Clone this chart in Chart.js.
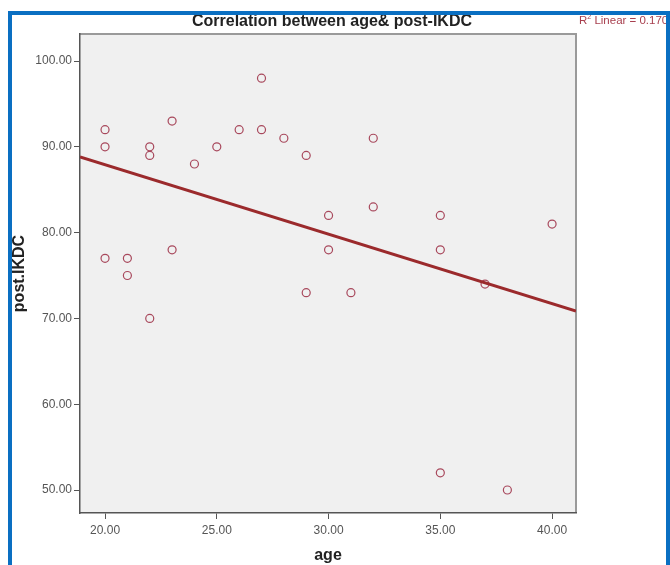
<!DOCTYPE html>
<html>
<head>
<meta charset="utf-8">
<script src="https://cdn.jsdelivr.net/npm/chart.js@4.4.1/dist/chart.umd.min.js"></script>
<style>
  body { margin: 0; background: #fff; }
  #wrap { position: relative; width: 670px; height: 565px; overflow: hidden; }
  #frame {
    position: absolute; left: 8px; top: 11px; width: 654px; height: 600px;
    border: 4px solid #0a6fc2; border-bottom: none; pointer-events: none;
  }
</style>
</head>
<body>
<div id="wrap">
  <canvas id="chart" width="670" height="565"></canvas>
  <div id="frame"></div>
</div>
<script>
// age vs post-IKDC
const ages     = [20, 20, 20, 21, 21, 22, 22, 22, 23, 23, 24, 25, 26, 27, 27, 28, 29, 29, 30, 30, 31, 32, 32, 35, 35, 35, 37, 38, 40];
const postIKDC = [92, 90, 77, 77, 75, 90, 89, 70, 93, 78, 88, 90, 92, 98, 92, 91, 89, 73, 82, 78, 73, 91, 83, 82, 78, 52, 74, 50, 81];
const xTicks = [20, 25, 30, 35, 40];
const yTicks = [50, 60, 70, 80, 90, 100];
const chartTitle = 'Correlation between age& post-IKDC';
const fitLabel = ' Linear = 0.170';

const xMin = 18.88, xMax = 41.07;
const yMin = 47.32, yMax = 103.15;

// least squares fit line
const n = ages.length;
const mx = ages.reduce((a, b) => a + b, 0) / n;
const my = postIKDC.reduce((a, b) => a + b, 0) / n;
let sxy = 0, sxx = 0;
ages.forEach((x, i) => { sxy += (x - mx) * (postIKDC[i] - my); sxx += (x - mx) * (x - mx); });
const slope = sxy / sxx;
const intercept = my - slope * mx;
const fitLine = [xMin, xMax].map(x => ({ x: x, y: intercept + slope * x }));

const font = "'Liberation Sans', Arial, sans-serif";

const extras = {
  id: 'extras',
  beforeDraw(chart) {
    const { ctx, chartArea: a } = chart;
    ctx.save();
    ctx.fillStyle = '#f0f0f0';
    ctx.fillRect(a.left, a.top, a.right - a.left, a.bottom - a.top);
    ctx.strokeStyle = '#9a9a9a';
    ctx.lineWidth = 2;
    ctx.beginPath();
    ctx.moveTo(a.left, a.top);
    ctx.lineTo(a.right, a.top);
    ctx.lineTo(a.right, a.bottom);
    ctx.stroke();
    ctx.restore();
  },
  afterDraw(chart) {
    const { ctx, chartArea: a } = chart;
    ctx.save();
    ctx.fillStyle = '#222';
    ctx.font = 'bold 16px ' + font;
    ctx.textAlign = 'center';
    ctx.textBaseline = 'middle';
    ctx.fillText(chartTitle, 332, 22);

    ctx.fillStyle = '#a8404f';
    ctx.textAlign = 'left';
    ctx.font = '11.5px ' + font;
    ctx.fillText('R', a.right + 3, 21);
    const rw = ctx.measureText('R').width;
    ctx.font = '7px ' + font;
    ctx.fillText('2', a.right + 3 + rw, 17);
    const sw = ctx.measureText('2').width;
    ctx.font = '11.5px ' + font;
    ctx.fillText(fitLabel, a.right + 3 + rw + sw, 21);
    ctx.restore();
  }
};

new Chart(document.getElementById('chart'), {
  type: 'scatter',
  plugins: [extras],
  data: {
    datasets: [
      {
        data: ages.map((x, i) => ({ x: x, y: postIKDC[i] })),
        pointStyle: 'circle',
        pointRadius: 4,
        pointBorderWidth: 1.2,
        pointBorderColor: '#a8485c',
        pointBackgroundColor: 'rgba(0,0,0,0)',
        order: 2
      },
      {
        type: 'line',
        data: fitLine,
        borderColor: '#9b2a2c',
        borderWidth: 3,
        pointRadius: 0,
        fill: false,
        order: 1
      }
    ]
  },
  options: {
    responsive: false,
    animation: false,
    layout: { padding: { left: 10, top: 34, right: 94, bottom: 0 } },
    plugins: {
      legend: { display: false },
      tooltip: { enabled: false }
    },
    scales: {
      x: {
        type: 'linear',
        min: xMin,
        max: xMax,
        afterFit: s => { s.height = 52; },
        afterBuildTicks: s => { s.ticks = xTicks.map(v => ({ value: v })); },
        border: { display: true, color: '#555', width: 1.5 },
        grid: { drawOnChartArea: false, drawTicks: true, tickLength: 6, tickColor: '#555' },
        ticks: {
          padding: 4,
          color: '#555',
          font: { family: font, size: 12 },
          maxRotation: 0,
          callback: v => Number(v).toFixed(2)
        },
        title: {
          display: true,
          text: 'age',
          color: '#222',
          font: { family: font, size: 16, weight: 'bold' },
          padding: 0
        }
      },
      y: {
        type: 'linear',
        min: yMin,
        max: yMax,
        afterFit: s => { s.width = 70; },
        afterBuildTicks: s => { s.ticks = yTicks.map(v => ({ value: v })); },
        border: { display: true, color: '#555', width: 1.5 },
        grid: { drawOnChartArea: false, drawTicks: true, tickLength: 6, tickColor: '#555' },
        ticks: {
          padding: 2,
          color: '#555',
          font: { family: font, size: 12 },
          callback: v => Number(v).toFixed(2)
        },
        title: {
          display: true,
          text: 'post.IKDC',
          color: '#222',
          font: { family: font, size: 16, weight: 'bold' },
          padding: 0
        }
      }
    }
  }
});
</script>
</body>
</html>
